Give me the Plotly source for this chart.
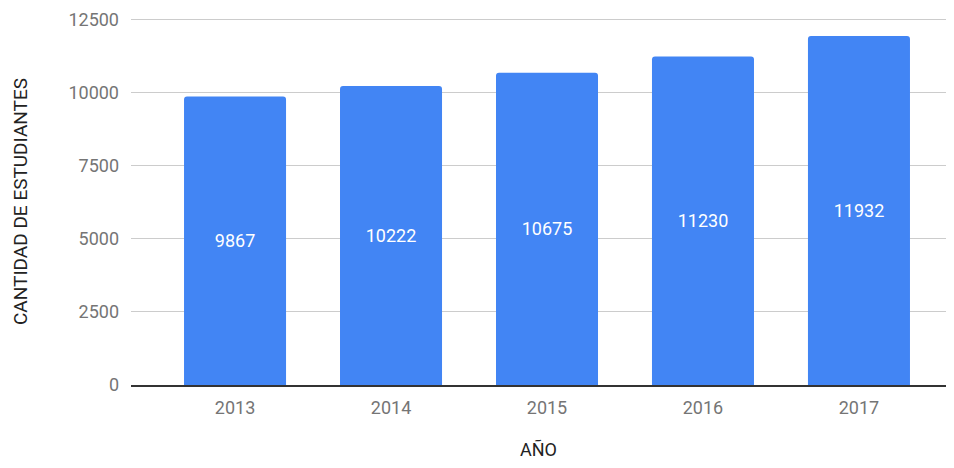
import plotly.graph_objs as go

years = ['2013', '2014', '2015', '2016', '2017']
students = [9867, 10222, 10675, 11230, 11932]
y_ticks = [0, 2500, 5000, 7500, 10000, 12500]

pos = list(range(len(years)))

fig = go.Figure()
fig.add_trace(go.Bar(
    x=pos, y=students, width=0.654,
    marker=dict(color='#4285F4', line=dict(width=0)),
    text=[str(v) for v in students], textposition='inside',
    insidetextanchor='middle',
    textfont=dict(color='white', size=18, family='Roboto'),
))

# page has an 8px body margin, so the figure is kept inside 938x452
fig.update_layout(
    width=938, height=452,
    margin=dict(l=123, r=0, t=10, b=75, autoexpand=False),
    plot_bgcolor='white', paper_bgcolor='white',
    font=dict(family='Roboto', size=18, color='#757575'),
    showlegend=False,
    barcornerradius=3,
)
fig.update_xaxes(
    range=[-0.667, 4.558], tickvals=pos, ticktext=years, automargin=False,
    showgrid=False, ticks='', ticklabelstandoff=6,
    tickfont=dict(size=18, color='#757575'),
    title=dict(text='AÑO', font=dict(size=18, color='#222222'), standoff=32),
    showline=True, linecolor='#333333', linewidth=1.5,
)
fig.update_yaxes(
    range=[0, 12550], tickvals=y_ticks, ticktext=[str(t) for t in y_ticks],
    automargin=False, showgrid=True, gridcolor='#cccccc',
    gridwidth=1, zeroline=False, ticks='', ticklabelstandoff=11,
    tickfont=dict(size=18, color='#757575'),
    title=dict(text='CANTIDAD DE ESTUDIANTES', font=dict(size=19, color='#222222'), standoff=35),
)
fig.write_html("out.html")
